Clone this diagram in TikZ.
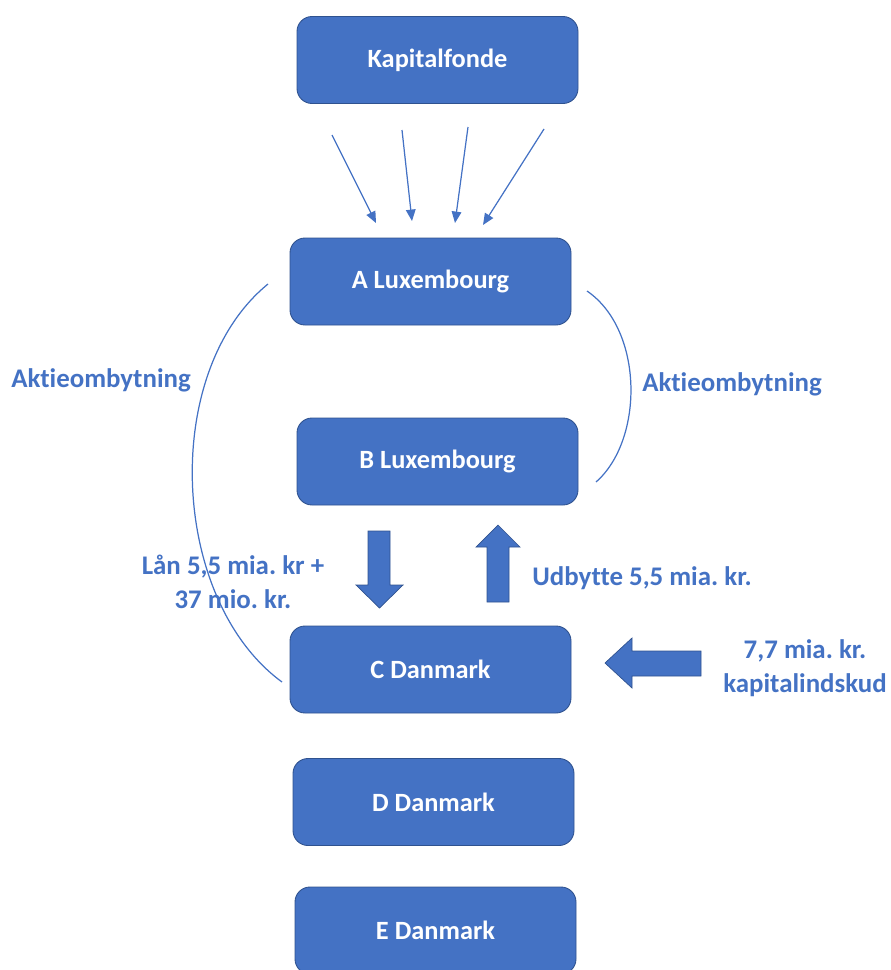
\documentclass[tikz,border=0pt]{standalone}
\usepackage{fontspec}
\setmainfont[RawFeature=-liga]{Carlito}
\usetikzlibrary{arrows.meta}
\definecolor{obl}{HTML}{4472C4}
\definecolor{obd}{HTML}{2F528F}
\frenchspacing
\begin{document}
\begin{tikzpicture}[x=0.02cm,y=-0.02cm,
  box/.style={draw=obd,line width=0.5pt,fill=obl,rounded corners=0.3cm,minimum width=281*0.02cm,minimum height=87*0.02cm,inner sep=0pt,text=white,font=\bfseries\fontsize{15}{18}\selectfont},
  lbl/.style={text=obl,font=\bfseries\fontsize{15.3}{19.5}\selectfont,align=center,inner sep=0pt},
  thin/.style={draw=obl,line width=0.7pt},
  arr/.style={thin,-{Triangle[length=6.5pt,width=5.5pt]}},
  blk/.style={fill=obl,draw=obd,line width=0.4pt}]
\useasboundingbox (0,0) rectangle (890,970);
\begin{scope}
\clip (0,0) rectangle (890,970);
\node[box] (K) at (437.5,60) {Kapitalfonde};
\node[box] (A) at (430.5,281.5) {A Luxembourg};
\node[box] (B) at (437.5,461.5) {B Luxembourg};
\node[box] (C) at (430.5,669.5) {C Danmark};
\node[box] (D) at (433.5,802) {D Danmark};
\node[box] (E) at (435.5,930.5) {E Danmark};
\end{scope}
% arrows from Kapitalfonde
\coordinate (s1) at (332,135); \coordinate (e1) at (376,223);
\coordinate (s2) at (402,130); \coordinate (e2) at (412,221);
\coordinate (s3) at (468,127); \coordinate (e3) at (455,223);
\coordinate (s4) at (544,129); \coordinate (e4) at (483,225);
\draw[arr] (s1) -- (e1);
\draw[arr] (s2) -- (e2);
\draw[arr] (s3) -- (e3);
\draw[arr] (s4) -- (e4);
% curves
\coordinate (l0) at (268,284); \coordinate (l1) at (282,682);
\draw[thin] (l0) .. controls (160,372) and (170,600) .. (l1);
\coordinate (r0) at (587,291); \coordinate (r1) at (596,482);
\draw[thin] (r0) .. controls (644,330) and (644,440) .. (r1);
% block arrows
\path[blk] (368,531) -- (390,531) -- (390,585) -- (403,585) -- (379.5,608) -- (356,585) -- (368,585) -- cycle;
\path[blk] (487,602) -- (509,602) -- (509,547) -- (520,547) -- (498,525) -- (476,547) -- (487,547) -- cycle;
\path[blk] (701,651) -- (632,651) -- (632,638) -- (605,663) -- (632,688) -- (632,676) -- (701,676) -- cycle;
% labels
\node[lbl] (t1) at (101,380) {Aktieombytning};
\node[lbl] (t2) at (732,384) {Aktieombytning};
\node[lbl] (t3) at (233,582) {Lån 5,5 mia. kr +\\37 mio. kr.};
\node[lbl] (t4) at (642,578) {Udbytte 5,5 mia. kr.};
\node[lbl] (t5) at (805,668) {7,7 mia. kr.\\kapitalindskud};
\end{tikzpicture}
\end{document}
